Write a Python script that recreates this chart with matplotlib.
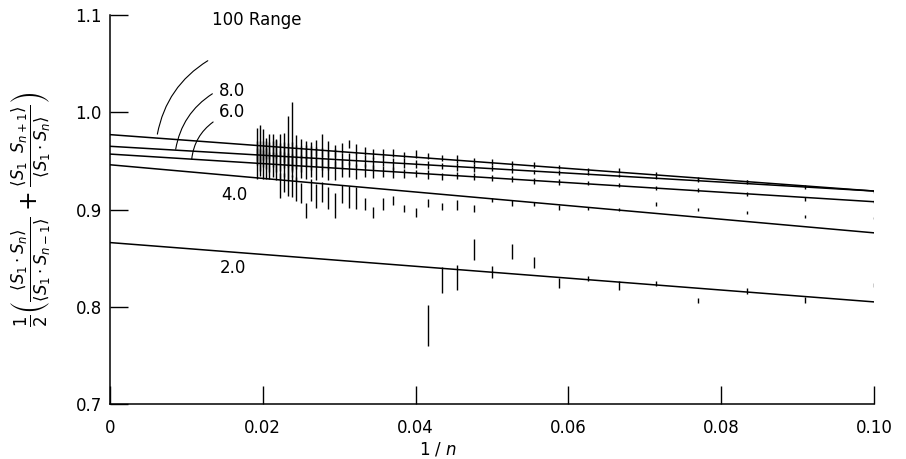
import numpy as np
import matplotlib
matplotlib.use("Agg")
import matplotlib.pyplot as plt

plt.rcParams['mathtext.fontset'] = 'dejavusans'

# fitted straight lines: intercept at 1/n = 0 and slope
ranges = ['100', '8.0', '6.0', '4.0', '2.0']
intercepts = [0.977, 0.965, 0.957, 0.946, 0.866]
slopes = [-0.58, -0.46, -0.49, -0.70, -0.61]

# data points with error bars
n_top = np.arange(10, 53)
y100 = [0.919, 0.924, 0.929, 0.932, 0.937, 0.940, 0.941, 0.944, 0.946, 0.947,
        0.949, 0.950, 0.952, 0.953, 0.955, 0.957, 0.956, 0.958, 0.958, 0.957,
        0.960, 0.962, 0.967, 0.963, 0.960, 0.962, 0.966, 0.963, 0.962, 0.961,
        0.963, 0.965, 0.975, 0.970, 0.964, 0.966, 0.963, 0.966, 0.965, 0.963,
        0.967, 0.968, 0.967]
e100 = [0.001, 0.001, 0.0015, 0.0015, 0.002, 0.0025, 0.002, 0.002, 0.003, 0.003,
        0.003, 0.003, 0.004, 0.003, 0.003, 0.004, 0.003, 0.004, 0.004, 0.005,
        0.004, 0.005, 0.004, 0.005, 0.006, 0.008, 0.012, 0.008, 0.007, 0.009,
        0.010, 0.012, 0.036, 0.026, 0.015, 0.012, 0.010, 0.012, 0.013, 0.011,
        0.016, 0.019, 0.017]
y80 = [0.918, 0.923, 0.928, 0.930, 0.933, 0.935, 0.937, 0.938, 0.939, 0.941,
       0.943, 0.943, 0.944, 0.945, 0.946, 0.947, 0.948, 0.947, 0.950, 0.948,
       0.950, 0.951, 0.952, 0.950, 0.953, 0.951, 0.952, 0.954, 0.953, 0.955,
       0.952, 0.954, 0.955, 0.953, 0.956, 0.954, 0.955, 0.957, 0.954, 0.956,
       0.957, 0.955, 0.958]
e80 = [0.001, 0.0015, 0.002, 0.002, 0.002, 0.002, 0.002, 0.003, 0.002, 0.003,
       0.003, 0.004, 0.004, 0.003, 0.004, 0.004, 0.005, 0.006, 0.005, 0.006,
       0.006, 0.007, 0.006, 0.008, 0.009, 0.010, 0.011, 0.010, 0.012, 0.011,
       0.013, 0.012, 0.014, 0.015, 0.013, 0.014, 0.016, 0.013, 0.015, 0.014,
       0.013, 0.015, 0.012]
y60 = [0.908, 0.911, 0.916, 0.920, 0.922, 0.925, 0.927, 0.928, 0.929, 0.931,
       0.932, 0.934, 0.935, 0.934, 0.936, 0.937, 0.937, 0.938, 0.939, 0.939,
       0.940, 0.939, 0.941, 0.942, 0.940, 0.941, 0.943, 0.942, 0.944, 0.943,
       0.944, 0.942, 0.945, 0.944, 0.946, 0.945, 0.944, 0.946, 0.945, 0.947,
       0.946, 0.948, 0.947]
e60 = [0.0015, 0.002, 0.002, 0.002, 0.002, 0.002, 0.002, 0.003, 0.003, 0.003,
       0.003, 0.004, 0.004, 0.004, 0.005, 0.004, 0.005, 0.006, 0.006, 0.007,
       0.007, 0.008, 0.008, 0.009, 0.010, 0.011, 0.010, 0.012, 0.011, 0.012,
       0.012, 0.013, 0.012, 0.014, 0.013, 0.015, 0.014, 0.013, 0.014, 0.016,
       0.015, 0.014, 0.016]

n40 = np.arange(10, 46)
y40 = [0.891, 0.893, 0.897, 0.900, 0.906, 0.900, 0.901, 0.902, 0.906, 0.907,
       0.910, 0.901, 0.905, 0.9035, 0.907, 0.897, 0.901, 0.9095, 0.906, 0.897,
       0.906, 0.912, 0.913, 0.916, 0.904, 0.912, 0.918, 0.914, 0.920, 0.899,
       0.917, 0.921, 0.924, 0.926, 0.928, 0.925]
e40 = [0.001, 0.0015, 0.0015, 0.002, 0.002, 0.0015, 0.002, 0.003, 0.002, 0.003,
       0.002, 0.004, 0.005, 0.0035, 0.004, 0.0045, 0.004, 0.0045, 0.006, 0.006,
       0.006, 0.011, 0.011, 0.009, 0.013, 0.011, 0.010, 0.012, 0.011, 0.008,
       0.010, 0.012, 0.011, 0.012, 0.010, 0.013]

n20 = np.arange(10, 25)
y20 = [0.822, 0.807, 0.8165, 0.8065, 0.824, 0.822, 0.829, 0.8245, 0.8455, 0.857,
       0.836, 0.859, 0.830, 0.8275, 0.781]
e20 = [0.002, 0.003, 0.003, 0.003, 0.003, 0.005, 0.003, 0.0055, 0.0055, 0.008,
       0.006, 0.011, 0.0125, 0.0135, 0.021]

fig = plt.figure(figsize=(9.06, 4.59), dpi=100)
ax = fig.add_axes([0.1214, 0.1198, 0.8433, 0.8475])

xfit = np.array([0.0, 0.1])
for b, m in zip(intercepts, slopes):
    ax.plot(xfit, b + m * xfit, color='black', lw=1.1)

for n, y, e in [(n_top, y100, e100), (n_top, y80, e80), (n_top, y60, e60),
                (n40, y40, e40), (n20, y20, e20)]:
    ax.errorbar(1.0 / n, y, yerr=e, fmt='none', ecolor='black', elinewidth=1.0,
                capsize=0)

# range labels with curved leaders
fs = 12
leaders = [((0.0128, 1.053), (0.0062, 0.9775)),
           ((0.0134, 1.019), (0.0086, 0.9620)),
           ((0.0135, 0.990), (0.0107, 0.9520))]
for start, end in leaders:
    ax.annotate('', xy=end, xytext=start,
                arrowprops=dict(arrowstyle='-', lw=0.8, shrinkA=0, shrinkB=0,
                                connectionstyle='arc3,rad=0.22'))
ax.text(0.0134, 1.095, '100 Range', fontsize=fs, va='center', ha='left')
ax.text(0.0143, 1.022, '8.0', fontsize=fs, va='center', ha='left')
ax.text(0.0143, 1.000, '6.0', fontsize=fs, va='center', ha='left')
ax.text(0.0145, 0.915, '4.0', fontsize=fs, va='center', ha='left')
ax.text(0.0144, 0.840, '2.0', fontsize=fs, va='center', ha='left')

ax.set_xlim(0, 0.1)
ax.set_ylim(0.7, 1.1)
ax.set_xticks([0, 0.02, 0.04, 0.06, 0.08, 0.10])
ax.set_xticklabels(['0', '0.02', '0.04', '0.06', '0.08', '0.10'])
ax.set_yticks([0.7, 0.8, 0.9, 1.0, 1.1])
ax.set_yticklabels(['0.7', '0.8', '0.9', '1.0', '1.1'])
ax.tick_params(direction='in', length=13, width=1.0, labelsize=fs)
ax.tick_params(axis='x', pad=11)
ax.tick_params(axis='y', pad=6)
for s in ['top', 'right']:
    ax.spines[s].set_visible(False)
for s in ['left', 'bottom']:
    ax.spines[s].set_linewidth(1.1)

ax.set_xlabel(r'1 / $n$', fontsize=fs)
ax.xaxis.set_label_coords(0.429, -0.095)
ax.set_ylabel(r'$\frac{1}{2}\left(\frac{\langle S_1 \cdot S_n\rangle}{\langle S_1 \cdot S_{n-1}\rangle}'
              r' + \frac{\langle S_1 \;\; S_{n+1}\rangle}{\langle S_1 \cdot S_n\rangle}\right)$',
              fontsize=17)
ax.yaxis.set_label_coords(-0.075, 0.5)

fig.savefig('out.png', dpi=100)
